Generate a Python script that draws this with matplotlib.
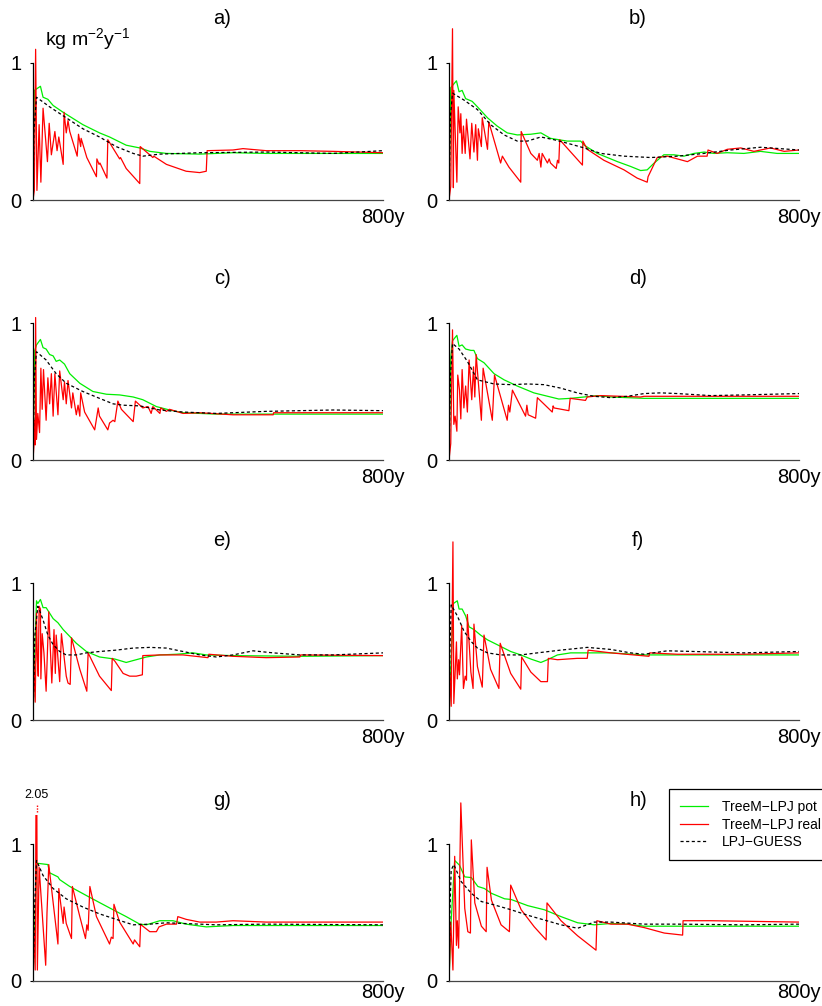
import matplotlib
matplotlib.use("Agg")
import matplotlib.pyplot as plt
from matplotlib.lines import Line2D

plt.rcParams["font.family"] = ["Liberation Sans", "DejaVu Sans"]

# (year, kg m-2 y-1)
a_pot = [(0, 0), (3, 0.80), (17, 0.83), (23, 0.75), (34, 0.735), (46, 0.69), (69, 0.64), (114, 0.55),
         (152, 0.49), (175, 0.46), (213, 0.40), (244, 0.38), (267, 0.355), (305, 0.34), (381, 0.335),
         (457, 0.345), (533, 0.34), (686, 0.34), (800, 0.34)]
a_real = [(0, 0), (3, 0.07), (6, 1.10), (9, 0.07), (14, 0.55), (18, 0.13), (23, 0.67), (33, 0.28), (37, 0.56),
          (42, 0.33), (50, 0.50), (55, 0.36), (59, 0.46), (69, 0.26), (71, 0.64), (76, 0.49), (80, 0.58),
          (84, 0.50), (101, 0.32), (104, 0.48), (109, 0.39), (110, 0.45), (123, 0.31), (145, 0.17),
          (146, 0.30), (151, 0.26), (153, 0.27), (169, 0.16), (171, 0.44), (198, 0.30), (200, 0.31),
          (213, 0.23), (244, 0.12), (245, 0.39), (274, 0.31), (276, 0.32), (305, 0.26), (350, 0.21),
          (381, 0.20), (396, 0.21), (398, 0.36), (457, 0.365), (480, 0.375), (533, 0.36), (610, 0.36),
          (686, 0.355), (800, 0.345)]
a_guess = [(0, 0), (2, 0.5), (8, 0.75), (38, 0.68), (76, 0.60), (114, 0.52), (152, 0.46), (190, 0.39),
           (229, 0.34), (251, 0.32), (290, 0.335), (381, 0.345), (533, 0.35), (686, 0.34), (800, 0.36)]

b_pot = [(0, 0), (4, 0.82), (17, 0.87), (23, 0.79), (30, 0.80), (38, 0.74), (53, 0.72), (65, 0.68), (88, 0.60),
         (110, 0.54), (133, 0.49), (156, 0.475), (187, 0.48), (210, 0.49), (232, 0.45), (270, 0.43),
         (301, 0.43), (309, 0.40), (339, 0.34), (385, 0.28), (415, 0.245), (438, 0.215), (453, 0.22),
         (469, 0.27), (491, 0.33), (514, 0.33), (537, 0.32), (560, 0.34), (583, 0.35), (606, 0.34),
         (636, 0.345), (674, 0.34), (712, 0.355), (750, 0.34), (800, 0.34)]
b_real = [(0, 0), (4, 0.10), (8, 1.25), (10, 0.09), (11, 0.80), (18, 0.13), (21, 0.68), (25, 0.49), (27, 0.63),
          (30, 0.34), (33, 0.54), (37, 0.34), (40, 0.59), (48, 0.30), (52, 0.56), (57, 0.35), (61, 0.55),
          (65, 0.29), (67, 0.52), (74, 0.39), (76, 0.60), (88, 0.37), (91, 0.57), (118, 0.27), (122, 0.32),
          (137, 0.24), (164, 0.13), (165, 0.50), (187, 0.34), (202, 0.29), (206, 0.34), (210, 0.24),
          (213, 0.34), (225, 0.27), (229, 0.30), (232, 0.27), (245, 0.23), (248, 0.29), (251, 0.27),
          (253, 0.44), (305, 0.255), (306, 0.43), (316, 0.37), (354, 0.29), (400, 0.22), (430, 0.16),
          (453, 0.13), (455, 0.17), (476, 0.31), (499, 0.32), (522, 0.30), (545, 0.28), (568, 0.32),
          (590, 0.32), (592, 0.365), (613, 0.34), (636, 0.37), (667, 0.38), (697, 0.355), (735, 0.38),
          (766, 0.355), (800, 0.365)]
b_guess = [(0, 0), (3, 0.6), (8, 0.78), (34, 0.73), (65, 0.66), (95, 0.55), (126, 0.475), (156, 0.43),
           (179, 0.43), (210, 0.46), (240, 0.44), (270, 0.415), (309, 0.38), (347, 0.34), (400, 0.32),
           (461, 0.31), (522, 0.32), (583, 0.34), (644, 0.365), (712, 0.385), (800, 0.365)]

c_pot = [(0, 0), (4, 0.8), (8, 0.84), (17, 0.88), (23, 0.82), (30, 0.81), (38, 0.77), (46, 0.76), (53, 0.72),
         (61, 0.73), (72, 0.70), (84, 0.63), (107, 0.56), (137, 0.50), (168, 0.48), (198, 0.475), (229, 0.46),
         (251, 0.44), (282, 0.39), (312, 0.365), (343, 0.345), (419, 0.335), (533, 0.335), (686, 0.335),
         (800, 0.335)]
c_real = [(0, 0), (2, 0.10), (4, 0.29), (5, 0.11), (6, 1.04), (8, 0.15), (11, 0.34), (15, 0.20), (18, 0.67),
          (21, 0.37), (24, 0.66), (30, 0.29), (34, 0.60), (38, 0.41), (42, 0.63), (46, 0.32), (50, 0.63),
          (57, 0.33), (61, 0.65), (69, 0.44), (72, 0.57), (76, 0.41), (80, 0.58), (88, 0.38), (91, 0.49),
          (99, 0.33), (103, 0.40), (107, 0.32), (109, 0.49), (118, 0.35), (141, 0.22), (149, 0.38),
          (152, 0.32), (171, 0.22), (175, 0.27), (183, 0.29), (187, 0.28), (194, 0.43), (202, 0.37),
          (229, 0.28), (234, 0.43), (251, 0.38), (263, 0.39), (270, 0.34), (274, 0.39), (290, 0.34),
          (292, 0.38), (305, 0.355), (312, 0.37), (343, 0.34), (381, 0.345), (457, 0.33), (549, 0.33),
          (550, 0.345), (686, 0.345), (800, 0.345)]
c_guess = [(0, 0), (3, 0.6), (8, 0.79), (30, 0.73), (53, 0.63), (76, 0.56), (114, 0.50), (152, 0.45),
           (183, 0.41), (206, 0.40), (244, 0.395), (290, 0.365), (343, 0.35), (419, 0.34), (533, 0.355),
           (610, 0.36), (686, 0.365), (800, 0.36)]

d_pot = [(0, 0), (4, 0.75), (8, 0.87), (18, 0.91), (23, 0.83), (30, 0.84), (38, 0.81), (50, 0.80), (57, 0.80),
         (65, 0.74), (80, 0.71), (103, 0.63), (126, 0.585), (156, 0.54), (194, 0.49), (232, 0.46),
         (251, 0.445), (278, 0.45), (309, 0.46), (339, 0.47), (370, 0.46), (446, 0.45), (800, 0.45)]
d_real = [(0, 0), (4, 0.12), (8, 0.95), (11, 0.26), (14, 0.32), (18, 0.21), (20, 0.62), (24, 0.51), (27, 0.30),
          (30, 0.66), (34, 0.38), (38, 0.54), (42, 0.35), (46, 0.73), (52, 0.44), (56, 0.68), (59, 0.46),
          (62, 0.77), (69, 0.49), (74, 0.29), (78, 0.67), (99, 0.29), (104, 0.62), (133, 0.29), (136, 0.40),
          (139, 0.35), (145, 0.51), (175, 0.32), (178, 0.40), (181, 0.33), (198, 0.305), (202, 0.455),
          (236, 0.35), (238, 0.395), (240, 0.38), (274, 0.36), (277, 0.45), (312, 0.435), (316, 0.46),
          (347, 0.47), (438, 0.46), (446, 0.465), (800, 0.465)]
d_guess = [(0, 0), (3, 0.6), (8, 0.85), (23, 0.81), (42, 0.72), (65, 0.585), (103, 0.555), (141, 0.55),
           (179, 0.555), (217, 0.55), (255, 0.525), (293, 0.49), (331, 0.465), (370, 0.455), (408, 0.465),
           (446, 0.485), (484, 0.49), (522, 0.485), (598, 0.47), (674, 0.475), (800, 0.485)]

e_pot = [(0, 0), (4, 0.49), (8, 0.87), (11, 0.85), (17, 0.88), (23, 0.82), (30, 0.82), (38, 0.78), (46, 0.74),
         (57, 0.71), (69, 0.66), (84, 0.61), (99, 0.56), (122, 0.50), (152, 0.46), (175, 0.45), (187, 0.445),
         (213, 0.42), (236, 0.44), (259, 0.46), (290, 0.475), (328, 0.48), (366, 0.49), (396, 0.475),
         (457, 0.47), (610, 0.465), (800, 0.47)]
e_real = [(0, 0), (2, 0.44), (5, 0.13), (8, 0.78), (10, 0.44), (12, 0.32), (14, 0.83), (17, 0.81), (18, 0.30),
          (21, 0.63), (25, 0.49), (30, 0.21), (36, 0.79), (43, 0.27), (48, 0.66), (51, 0.34), (53, 0.62),
          (61, 0.28), (65, 0.63), (76, 0.32), (80, 0.27), (85, 0.26), (88, 0.60), (107, 0.37), (123, 0.21),
          (126, 0.49), (152, 0.32), (179, 0.215), (181, 0.45), (187, 0.43), (206, 0.34), (221, 0.32),
          (236, 0.32), (250, 0.33), (251, 0.47), (290, 0.475), (343, 0.475), (400, 0.455), (402, 0.48),
          (457, 0.465), (533, 0.455), (610, 0.46), (612, 0.475), (800, 0.47)]
e_guess = [(0, 0), (4, 0.61), (11, 0.83), (15, 0.80), (23, 0.73), (34, 0.62), (46, 0.55), (61, 0.50),
           (76, 0.475), (99, 0.475), (122, 0.49), (152, 0.50), (190, 0.51), (229, 0.525), (267, 0.53),
           (305, 0.525), (343, 0.50), (381, 0.475), (419, 0.46), (457, 0.475), (503, 0.505), (549, 0.49),
           (610, 0.475), (686, 0.475), (800, 0.49)]

f_pot = [(0, 0), (4, 0.37), (10, 0.85), (19, 0.87), (23, 0.81), (30, 0.81), (38, 0.76), (46, 0.68), (57, 0.66),
         (72, 0.62), (88, 0.585), (110, 0.55), (141, 0.50), (164, 0.475), (187, 0.445), (210, 0.42),
         (225, 0.44), (248, 0.475), (278, 0.49), (316, 0.49), (370, 0.49), (446, 0.475), (800, 0.475)]
f_real = [(0, 0), (2, 0.34), (5, 0.10), (9, 1.30), (11, 0.12), (17, 0.57), (19, 0.30), (22, 0.44), (24, 0.33),
          (29, 0.69), (33, 0.23), (37, 0.32), (40, 0.29), (42, 0.77), (50, 0.35), (55, 0.23), (57, 0.70),
          (65, 0.39), (76, 0.24), (80, 0.62), (95, 0.37), (114, 0.23), (117, 0.56), (141, 0.34),
          (164, 0.225), (166, 0.46), (187, 0.35), (210, 0.28), (225, 0.28), (227, 0.45), (248, 0.44),
          (293, 0.45), (316, 0.45), (318, 0.51), (370, 0.49), (457, 0.465), (459, 0.49), (522, 0.48),
          (674, 0.48), (800, 0.49)]
f_guess = [(0, 0), (2, 0.5), (5, 0.84), (19, 0.76), (34, 0.65), (50, 0.575), (65, 0.525), (88, 0.49),
           (118, 0.475), (164, 0.475), (202, 0.49), (255, 0.51), (316, 0.53), (370, 0.515), (415, 0.49),
           (446, 0.48), (499, 0.505), (560, 0.50), (674, 0.49), (800, 0.50)]

g_pot = [(0, 0), (4, 0.40), (8, 0.86), (34, 0.85), (38, 0.79), (57, 0.76), (61, 0.74), (84, 0.69), (130, 0.61),
         (183, 0.52), (213, 0.47), (244, 0.415), (259, 0.41), (290, 0.44), (320, 0.44), (350, 0.415),
         (396, 0.395), (457, 0.405), (800, 0.405)]
g_real = [(0, 0), (2, 0.37), (5, 0.08), (8, 2.05), (10, 0.08), (14, 0.83), (29, 0.115), (32, 0.50), (34, 0.66),
          (36, 0.85), (57, 0.27), (59, 0.675), (69, 0.42), (71, 0.54), (76, 0.42), (88, 0.31), (90, 0.69),
          (107, 0.47), (120, 0.31), (123, 0.41), (126, 0.37), (130, 0.69), (145, 0.47), (175, 0.27),
          (179, 0.32), (183, 0.31), (185, 0.56), (198, 0.43), (229, 0.27), (232, 0.30), (244, 0.25),
          (246, 0.415), (251, 0.40), (267, 0.36), (282, 0.36), (288, 0.395), (305, 0.415), (328, 0.415),
          (331, 0.47), (350, 0.45), (381, 0.43), (419, 0.43), (457, 0.44), (533, 0.43), (800, 0.43)]
g_guess = [(0, 0), (4, 0.57), (8, 0.88), (23, 0.77), (46, 0.675), (76, 0.60), (114, 0.54), (152, 0.49),
           (190, 0.45), (229, 0.41), (267, 0.415), (305, 0.425), (343, 0.42), (419, 0.41), (533, 0.415),
           (800, 0.41)]

h_pot = [(0, 0), (5, 0.44), (13, 0.88), (24, 0.845), (36, 0.76), (51, 0.755), (66, 0.69), (81, 0.675),
         (97, 0.64), (127, 0.60), (142, 0.595), (180, 0.55), (218, 0.52), (256, 0.47), (294, 0.425),
         (332, 0.41), (370, 0.42), (408, 0.415), (446, 0.40), (522, 0.40), (800, 0.40)]
h_real = [(0, 0), (4, 0.43), (9, 0.08), (13, 0.91), (17, 0.26), (19, 0.44), (22, 0.24), (27, 1.30), (36, 0.53),
          (43, 0.36), (49, 0.35), (51, 1.03), (59, 0.57), (74, 0.40), (85, 0.36), (87, 0.83), (97, 0.59),
          (119, 0.41), (138, 0.36), (141, 0.70), (165, 0.52), (195, 0.395), (222, 0.30), (224, 0.57),
          (256, 0.44), (294, 0.33), (336, 0.225), (338, 0.44), (370, 0.415), (408, 0.415), (446, 0.39),
          (492, 0.35), (534, 0.335), (535, 0.44), (598, 0.44), (800, 0.43)]
h_guess = [(0, 0), (2, 0.5), (5, 0.81), (11, 0.85), (28, 0.725), (51, 0.64), (74, 0.58), (104, 0.555),
           (142, 0.52), (180, 0.48), (218, 0.445), (256, 0.41), (294, 0.385), (332, 0.43), (370, 0.43),
           (446, 0.415), (522, 0.415), (675, 0.41), (800, 0.415)]

panels = [("a)", a_pot, a_real, a_guess), ("b)", b_pot, b_real, b_guess),
          ("c)", c_pot, c_real, c_guess), ("d)", d_pot, d_real, d_guess),
          ("e)", e_pot, e_real, e_guess), ("f)", f_pot, f_real, f_guess),
          ("g)", g_pot, g_real, g_guess), ("h)", h_pot, h_real, h_guess)]

W, H = 822, 1006
fig = plt.figure(figsize=(W / 100, H / 100), dpi=100)

col_x0 = [33, 449]        # pixel of year 0
row_y0 = [200, 460, 720, 981]  # pixel of value 0
px_w = 350
px_unit = 137
title_y = [18, 278, 540, 800]
title_x = [222, 638]

GREEN = "#00ee00"
RED = "#ff0000"

for i, (name, pot, real, guess) in enumerate(panels):
    r, c = divmod(i, 2)
    ytop = 1.21 if name == "g)" else 1.32
    ax = fig.add_axes([col_x0[c] / W, 1 - row_y0[r] / H, px_w / W, ytop * px_unit / H])
    ax.set_xlim(0, 800)
    ax.set_ylim(0, ytop)
    ax.patch.set_alpha(0)

    ax.plot(*zip(*pot), color=GREEN, lw=0.9)
    ax.plot(*zip(*real), color=RED, lw=0.9)
    ax.plot(*zip(*guess), color="black", lw=0.9, ls=(0, (2.5, 2)))

    for s in ["top", "right"]:
        ax.spines[s].set_visible(False)
    ax.spines["left"].set_bounds(0, 1)
    ax.spines["left"].set_linewidth(0.9)
    ax.spines["bottom"].set_color("#444444")
    ax.spines["bottom"].set_linewidth(0.9)
    ax.set_yticks([0, 1])
    ax.set_yticklabels(["0", "1"])
    ax.set_xticks([800])
    ax.set_xticklabels(["800y"])
    ax.tick_params(axis="y", length=2.5, width=0.8, pad=6, labelsize=14.5)
    # the bottom row sits right on the figure edge, so its label is tucked up
    ax.tick_params(axis="x", length=0, pad=1.5 if r == 3 else 6, labelsize=14.5)

    fig.text(title_x[c] / W, 1 - title_y[r] / H, name, ha="center", va="center", fontsize=14.5)

    if name == "a)":
        ax.text(27, 1.17, "kg m$^{\\mathregular{-2}}$y$^{\\mathregular{-1}}$", fontsize=14,
                ha="left", va="center")
    if name == "g)":
        spike_x = 8
        ax.plot([spike_x, spike_x], [1.23, 1.29], color=RED, lw=1.0, ls=(0, (1, 1)), clip_on=False)
        ax.text(spike_x, 1.36, "2.05", fontsize=9, ha="center", va="center")

handles = [Line2D([], [], color=GREEN, lw=0.9), Line2D([], [], color=RED, lw=0.9),
           Line2D([], [], color="black", lw=0.9, ls=(0, (2.5, 2)))]
labels = ["TreeM\u2212LPJ pot", "TreeM\u2212LPJ real", "LPJ\u2212GUESS"]
leg = fig.legend(handles, labels, loc="upper left", bbox_to_anchor=(669 / W, 1 - 789 / H),
                 fontsize=10, frameon=True, fancybox=False, edgecolor="black", framealpha=1,
                 handlelength=2.0, handletextpad=1.0, labelspacing=0.25, borderpad=0.8,
                 borderaxespad=0)
leg.get_frame().set_linewidth(0.9)

fig.savefig("out.png", dpi=100)
